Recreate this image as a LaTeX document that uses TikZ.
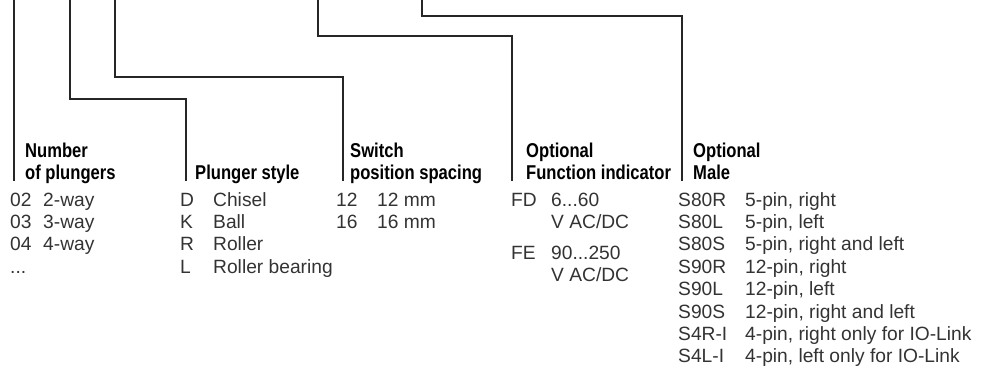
\documentclass[tikz,border=0pt]{standalone}
\usepackage{fontspec}
\setmainfont{Liberation Sans}
\newfontfamily\headfont[FakeStretch=0.83]{Liberation Sans}

\begin{document}
\begin{tikzpicture}[
    x=1pt, y=-1pt,
    % --- Styles ---
    % Bold condensed captions above each group
    head node/.style={font=\headfont\bfseries\fontsize{20}{22}\selectfont, anchor=base west, inner sep=0pt},
    % Light body text for codes and descriptions
    item node/.style={font=\fontsize{19.2}{22}\selectfont, anchor=base west, inner sep=0pt, text=black!80},
    leader line/.style={draw=black!85, line width=1.1pt}
]

%================CONFIGURATION================
% \rowA: baseline of the first code row
% \rowstep: distance between code rows
% \headA, \headB: baselines of the two caption lines
\def\rowA{206}
\def\rowstep{22.4}
\def\headA{157}
\def\headB{179}
\def\footY{181}
%=============================================

\useasboundingbox (0,0) rectangle (982,370);

% --- 1. Top ends and feet of the leader lines ---
\coordinate (top1) at (14,0);
\coordinate (top2) at (70,0);
\coordinate (top3) at (115,0);
\coordinate (top4) at (318,0);
\coordinate (top5) at (422,0);

\coordinate (foot1) at (14,\footY);
\coordinate (foot2) at (186,\footY);
\coordinate (foot3) at (343,\footY);
\coordinate (foot4) at (512,\footY);
\coordinate (foot5) at (682,\footY);

% --- 2. Captions ---
\node[head node] (hNum1) at (25,\headA) {Number};
\node[head node] (hNum2) at (25,\headB) {of plungers};
\node[head node] (hStyle) at (195,\headB) {Plunger style};
\node[head node] (hPos1) at (350,\headA) {Switch};
\node[head node] (hPos2) at (350,\headB) {position spacing};
\node[head node] (hFun1) at (526,\headA) {Optional};
\node[head node] (hFun2) at (526,\headB) {Function indicator};
\node[head node] (hMale1) at (693,\headA) {Optional};
\node[head node] (hMale2) at (693,\headB) {Male};

% --- 3. Leader lines ---
\draw[leader line] (top1) -- (foot1);
\draw[leader line] (top2) -- ++(0,99) -| (foot2);
\draw[leader line] (top3) -- ++(0,77) -| (foot3);
\draw[leader line] (top4) -- ++(0,36) -| (foot4);
\draw[leader line] (top5) -- ++(0,16) -| (foot5);

% --- 4. Code lists ---
% Number of plungers
\foreach \code/\desc [count=\r] in {02/2-way, 03/3-way, 04/4-way} {
    \pgfmathsetmacro{\yRow}{\rowA + (\r-1)*\rowstep}
    \node[item node] (num\r) at (10,\yRow) {\code};
    \node[item node] (numT\r) at (43,\yRow) {\desc};
}
\node[item node] (numMore) at (10,\rowA+3*\rowstep) {...};

% Plunger style
\foreach \code/\desc [count=\r] in {D/Chisel, K/Ball, R/Roller, L/Roller bearing} {
    \pgfmathsetmacro{\yRow}{\rowA + (\r-1)*\rowstep}
    \node[item node] (sty\r) at (180,\yRow) {\code};
    \node[item node] (styT\r) at (213,\yRow) {\desc};
}

% Switch position spacing
\foreach \code/\desc [count=\r] in {12/12 mm, 16/16 mm} {
    \pgfmathsetmacro{\yRow}{\rowA + (\r-1)*\rowstep}
    \node[item node] (pos\r) at (336,\yRow) {\code};
    \node[item node] (posT\r) at (377,\yRow) {\desc};
}

% Function indicator
\node[item node] (funFD) at (511,\rowA) {FD};
\node[item node] (funFDa) at (551,\rowA) {6...60};
\node[item node] (funFDb) at (551,\rowA+\rowstep) {V AC/DC};
\node[item node] (funFE) at (511,259) {FE};
\node[item node] (funFEa) at (551,259) {90...250};
\node[item node] (funFEb) at (551,259+\rowstep) {V AC/DC};

% Male connector
\foreach \code/\desc [count=\r] in {
    S80R/{5-pin, right}, S80L/{5-pin, left}, S80S/{5-pin, right and left},
    S90R/{12-pin, right}, S90L/{12-pin, left}, S90S/{12-pin, right and left},
    S4R-I/{4-pin, right only for IO-Link}, S4L-I/{4-pin, left only for IO-Link}} {
    \pgfmathsetmacro{\yRow}{\rowA + (\r-1)*\rowstep}
    \node[item node] (male\r) at (678,\yRow) {\code};
    \node[item node] (maleT\r) at (745,\yRow) {\desc};
}

\end{tikzpicture}
\end{document}
